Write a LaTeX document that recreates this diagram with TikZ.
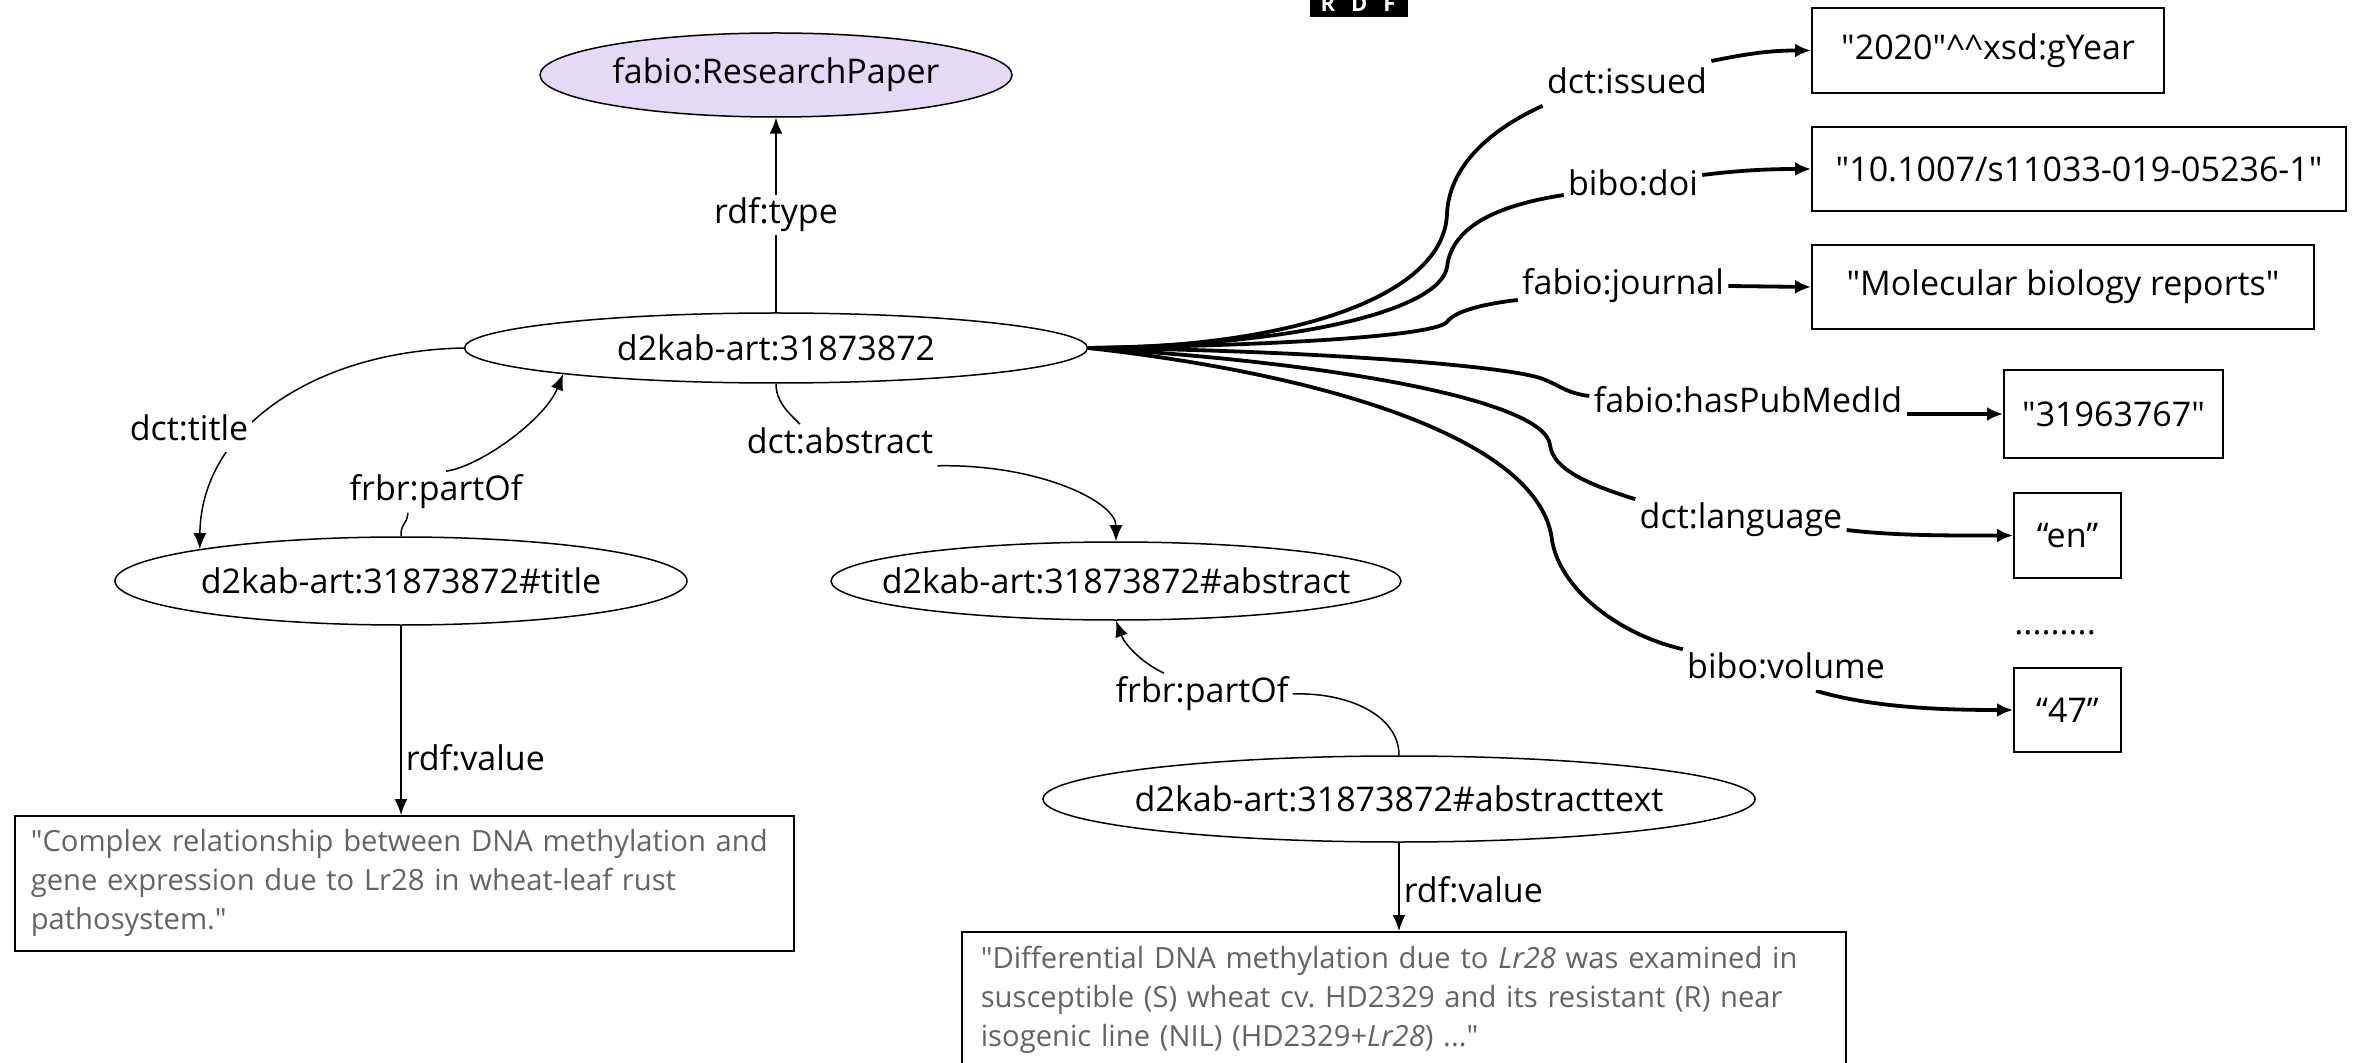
\documentclass[tikz,border=0pt]{standalone}
\usepackage{fontspec}
\setmainfont{Open Sans}[Ligatures=TeXOff]
\usetikzlibrary{shapes.geometric,arrows.meta,backgrounds}
\definecolor{lav}{RGB}{228,218,245}
\definecolor{txtgray}{RGB}{100,100,100}
\newcommand{\mynodefont}{\fontsize{17}{20}\selectfont}
\tikzset{
  uri/.style={ellipse, draw, line width=0.75pt, font=\mynodefont, inner xsep=-40pt, inner ysep=0pt},
  lit/.style={draw, line width=1pt, font=\mynodefont, inner sep=0pt},
  lbl/.style={font=\mynodefont, inner sep=2pt, fill=white, text height=12.4pt, text depth=4pt},
  lbltr/.style={font=\mynodefont, inner sep=2pt, text height=12.4pt, text depth=4pt},
  thinline/.style={line width=0.75pt},
  thinarr/.style={line width=0.75pt, -{Latex[length=8pt,width=6.5pt]}},
  thickline/.style={line width=1.9pt},
  thickarr/.style={line width=1.9pt, -{Latex[length=8pt,width=7pt]}},
  valbox/.style={draw, line width=0.8pt, text=txtgray, font=\fontsize{14.6}{19.5}\selectfont, align=left, anchor=north west, inner ysep=5pt},
}
\begin{document}
\begin{tikzpicture}[x=0.5pt,y=-0.5pt]
\useasboundingbox (0,0) rectangle (2354,1063);
% RDF logo
\fill[black] (1310,-10) rectangle (1408,17);
\node[text=white, font=\bfseries\fontsize{11}{11}\selectfont, inner sep=0pt, anchor=base] (logo) at (1358,12) {R\hspace{8pt}D\hspace{8pt}F};

% resource nodes
\node[uri, fill=lav, minimum width=236pt, minimum height=42pt] (rp) at (776,75) {fabio:ResearchPaper};
\node[uri, minimum width=311.5pt, minimum height=35pt] (art) at (776,348) {d2kab-art:31873872};
\node[uri, minimum width=286pt, minimum height=44pt] (ttitle) at (401,581) {d2kab-art:31873872\#title};
\node[uri, minimum width=285pt, minimum height=39pt] (tabs) at (1116,581) {d2kab-art:31873872\#abstract};
\node[uri, minimum width=356pt, minimum height=43pt] (tatext) at (1399,799) {d2kab-art:31873872\#abstracttext};

% literal boxes
\node[lit, minimum width=176pt, minimum height=42.5pt] (byear) at (1988,50.5) {"2020"\textasciicircum\textasciicircum xsd:gYear};
\node[lit, minimum width=267pt, minimum height=42pt] (bdoi) at (2079,169) {"10.1007/s11033-019-05236-1"};
\node[lit, minimum width=251pt, minimum height=42pt] (bjournal) at (2063,287) {"Molecular biology reports"};
\node[lit, minimum width=109.5pt, minimum height=44pt] (bpub) at (2113.5,414) {"31963767"};
\node[lit, minimum width=53.5pt, minimum height=42.5pt] (ben) at (2067.5,535.5) {“en”};
\node[font=\mynodefont, inner sep=0pt, anchor=base west] (dots) at (2014,634) {.........};
\node[lit, minimum width=53.5pt, minimum height=42pt] (b47) at (2067.5,710) {“47”};

% value boxes
\node[valbox, inner xsep=8pt, text width=373.5pt, minimum height=67.5pt] (btitle) at (14,815) {"Complex relationship between DNA methylation and\\gene expression due to Lr28 in wheat-leaf rust\\pathosystem."};
\node[valbox, inner xsep=9.5pt, text width=423pt, minimum height=68.5pt] (batext) at (961,931) {"Differential DNA methylation due to \textit{Lr28} was examined in\\susceptible (S) wheat cv.\ HD2329 and its resistant (R) near\\isogenic line (NIL) (HD2329+\textit{Lr28}) ..."};

% edge labels
\node[lbl] (ltitle) at (189,432) {dct:title};
\node[lbl] (lpartL) at (436,492) {frbr:partOf};
\node[lbl] (labs) at (840,445) {dct:abstract};
\node[lbl] (lpartR) at (1202,694) {frbr:partOf};
\node[lbl] (lissued) at (1627,85) {dct:issued};
\node[lbl] (ldoi) at (1633,187) {bibo:doi};
\node[lbl] (ljournal) at (1623,286) {fabio:journal};
\node[lbl] (lpub) at (1748,404) {fabio:hasPubMedId};
\node[lbl] (llang) at (1741,520) {dct:language};
\node[lbl] (lvol) at (1786,670) {bibo:volume};

\begin{scope}[on background layer]
% left part
\draw[thinarr] (art.north) -- node[lbl] (ltype) {rdf:type} (rp.south);
\draw[thinarr] (art.west) .. controls +(-150,3) and +(1,-120) .. (ttitle.171);
\draw[thinline] (ttitle.north) .. controls +(0,-15) and +(-2,15) .. ([xshift=-14pt]lpartL.south);
\draw[thinarr] ([xshift=5pt]lpartL.north) .. controls +(35,-5) and +(-18,45) .. (art.187);
\draw[thinline] (art.south) .. controls +(0,18) and +(-12,-12) .. ([xshift=-20pt]labs.north);
\draw[thinarr] (labs.south east) .. controls +(100,-2) and +(0,-40) .. (tabs.north);
\draw[thinline] (tatext.north) .. controls +(0,-40) and +(55,-2) .. (lpartR.east);
\draw[thinarr] ([xshift=-19pt]lpartR.north) .. controls +(-25,-12) and +(8,22) .. (tabs.south);
\draw[thinarr] (ttitle.south) -- node[lbltr, pos=0.72, anchor=west] (lvalT) {rdf:value} (ttitle.south |- btitle.north);
\draw[thinarr] (tatext.south) -- node[lbltr, pos=0.58, anchor=west] (lvalA) {rdf:value} (tatext.south |- batext.north);
% right fan
\draw[thickline] (art.east) .. controls (1280,348) and (1445,300) .. (1447,213) .. controls (1450,160) and (1500,125) .. (lissued.south west);
\draw[thickarr] ([yshift=12pt]lissued.east) .. controls +(40,-8) and +(-40,0) .. (byear.west);
\draw[thickline] (art.east) .. controls (1300,345) and (1440,310) .. (1447,267) .. controls (1452,225) and (1500,205) .. ([yshift=-4pt]ldoi.west);
\draw[thickarr] ([yshift=6pt]ldoi.east) .. controls +(40,-5) and +(-40,0) .. (bdoi.west);
\draw[thickline] (art.east) .. controls (1300,345) and (1435,335) .. (1447,322) .. controls (1455,310) and (1490,303) .. ([yshift=-7pt]ljournal.west);
\draw[thickarr] (ljournal.east) -- (bjournal.west);
\draw[thickline] (art.east) .. controls (1300,350) and (1500,365) .. (1540,378) .. controls (1560,385) and (1565,393) .. ([yshift=4pt]lpub.west);
\draw[thickarr] (lpub.east |- bpub.west) -- (bpub.west);
\draw[thickline] (art.east) .. controls (1330,362) and (1545,400) .. (1550,445) .. controls (1553,470) and (1590,485) .. (llang.north west);
\draw[thickarr] ([yshift=-5pt]llang.east) .. controls +(50,6) and +(-60,0) .. (ben.west);
\draw[thickline] (art.east) .. controls (1330,375) and (1540,440) .. (1552,540) .. controls (1560,590) and (1620,635) .. (lvol.north west);
\draw[thickarr] ([xshift=15pt]lvol.south) .. controls +(60,18) and +(-60,0) .. (b47.west);
\end{scope}
\end{tikzpicture}
\end{document}
